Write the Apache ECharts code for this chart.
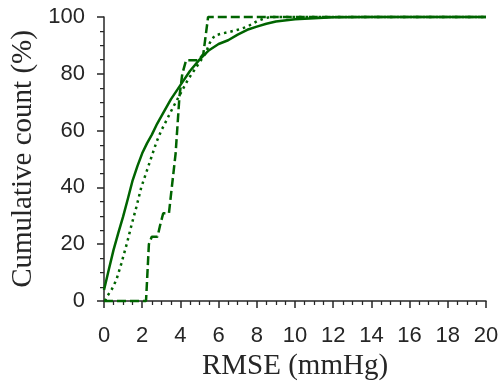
<!DOCTYPE html>
<html><head><meta charset="utf-8">
<script src="https://cdn.jsdelivr.net/npm/echarts@6/dist/echarts.min.js"></script>
<style>html,body{margin:0;padding:0;background:#fff}#c{width:501px;height:381px}</style>
</head><body><div id="c"></div>
<script>
const xLabel = 'RMSE (mmHg)';
const yLabel = 'Cumulative count (%)';
const xTicks = [0,2,4,6,8,10,12,14,16,18,20];
const yTicks = [0,20,40,60,80,100];

const solidX = [0,0.25,0.5,0.75,1.0,1.25,1.5,1.75,2.0,2.25,2.5,2.75,3.0,3.5,4.0,4.5,5.0,5.5,6.0,6.5,7.0,7.5,8.0,8.5,9.0,10,11,12,14,20];
const solidY = [3.9,11,18,24,29.7,36,42.5,47.5,52,55.5,58.5,62,65,71,76,81,85,88.3,90.5,91.8,93.8,95.5,96.6,97.6,98.4,99.2,99.6,99.9,100,100];

const dottedX = [0.05,0.15,0.4,0.65,0.9,1.2,1.45,1.7,1.95,2.25,2.5,2.75,3.0,3.3,3.6,4.0,4.4,4.85,5.1,5.3,5.55,5.8,6.2,6.6,7.0,7.5,8.0,8.4,8.7,20];
const dottedY = [0,1.5,4,7.5,13,20.3,27,33.2,40,46,51,56,60,64,68,73,78,82.5,85,87,91,93.5,94.2,94.8,95.5,96.6,98.5,99.5,100,100];

const dashedX = [0,2.2,2.35,2.5,2.8,2.95,3.1,3.4,3.5,3.75,3.95,4.1,4.3,4.95,5.2,5.45,20];
const dashedY = [0,0,20,22.6,22.6,27,30.9,30.9,37,52,72,80,84.8,84.8,87,100,100];

const pair = (xs, ys) => xs.map((x, i) => [x, ys[i]]);
const green = '#006400';
const axisCol = '#262626';

const chart = echarts.init(document.getElementById('c'), null, {renderer: 'canvas'});
const axisCommon = {
  axisLine: {show: true, onZero: false, lineStyle: {color: axisCol, width: 1.5}},
  axisTick: {show: true, inside: false, length: 7, lineStyle: {color: axisCol, width: 1.5}},
  minorTick: {show: true, splitNumber: 4, length: 4, lineStyle: {color: axisCol, width: 1.25}},
  splitLine: {show: false},
  minorSplitLine: {show: false},
  axisLabel: {color: axisCol, fontFamily: 'Liberation Sans', fontSize: 22},
  nameTextStyle: {color: axisCol, fontFamily: 'Liberation Serif', fontSize: 29},
  nameLocation: 'middle'
};
chart.setOption({
  animation: false,
  grid: {left: 104, right: 15, top: 17, bottom: 80, containLabel: false, outerBoundsMode: 'none'},
  xAxis: Object.assign({}, axisCommon, {
    type: 'value', min: xTicks[0], max: xTicks[xTicks.length-1], interval: 2,
    name: xLabel, nameGap: 50,
    axisLabel: Object.assign({}, axisCommon.axisLabel, {margin: 24})
  }),
  yAxis: Object.assign({}, axisCommon, {
    type: 'value', min: yTicks[0], max: yTicks[yTicks.length-1], interval: 20,
    name: yLabel, nameGap: 66,
    axisLabel: Object.assign({}, axisCommon.axisLabel, {margin: 19})
  }),
  series: [
    {type: 'line', data: pair(solidX, solidY), showSymbol: false, clip: false,
     lineStyle: {color: green, width: 2.5, type: 'solid'}},
    {type: 'line', data: pair(dottedX, dottedY), showSymbol: false, clip: false,
     lineStyle: {color: green, width: 2.5, type: [2.5, 4]}},
    {type: 'line', data: pair(dashedX, dashedY), showSymbol: false, clip: false,
     lineStyle: {color: green, width: 2.5, type: [9, 4]}}
  ]
});
</script></body></html>
